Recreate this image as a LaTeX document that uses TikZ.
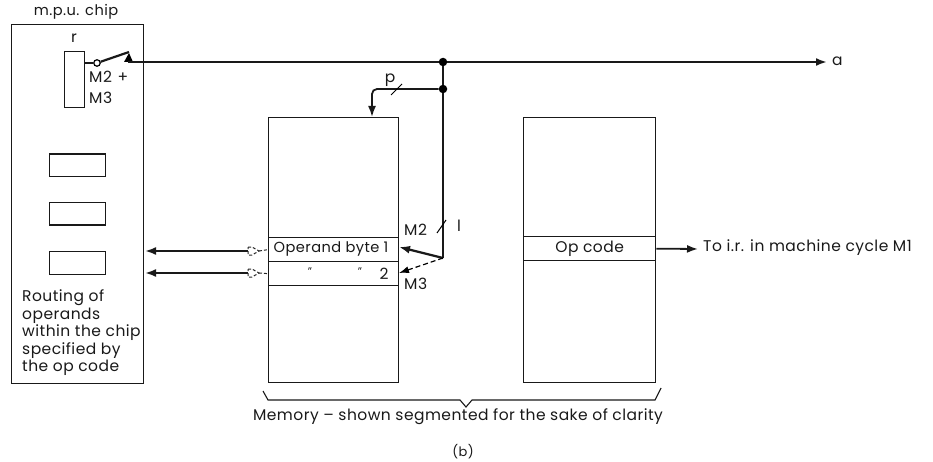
\documentclass[tikz,border=0pt]{standalone}
\usepackage{fontspec}
\setmainfont{Poppins}[LetterSpace=3]
\usetikzlibrary{arrows.meta,decorations.pathreplacing}
\tikzset{
  every node/.style={font=\fontsize{15.5}{17.6}\selectfont,inner sep=0pt,text=black!90},
  smalltext/.style={font=\fontsize{14.6}{17.6}\selectfont},
  heavy/.style={draw=black!90,line width=2.2pt},
  head/.style={-{Latex[length=11pt,width=8pt]}},
  dot/.style={circle,fill=black,minimum size=8.5pt,inner sep=0pt},
  boxpart/.style={draw=black!90,line width=1.3pt,rectangle,inner sep=0pt},
  shadow/.style={draw=black!85,line width=1pt,dash pattern=on 3pt off 2pt}
}
\begin{document}
\begin{tikzpicture}[x=1pt,y=-1pt]
\useasboundingbox (0,0) rectangle (933,462);
% chip
\node[boxpart,minimum width=132pt,minimum height=359pt,anchor=north west] (chip) at (11,24) {};
\node[anchor=base,smalltext] (chiplab) at (76,16) {m.p.u. chip};
\node[boxpart,minimum width=20pt,minimum height=56pt,anchor=north west] (reg) at (64,51) {};
\node[anchor=base] (rlab) at (74,43) {r};
\node[anchor=base west] (m2a) at (89,83) {M2};
\node[anchor=base west] (m3a) at (89,104) {M3};
\node[anchor=base] (fa) at (123,83) {+};
\node[boxpart,minimum width=56pt,minimum height=22.5pt,anchor=north west] (b1) at (49,153.5) {};
\node[boxpart,minimum width=56pt,minimum height=22.5pt,anchor=north west] (b2) at (49,202) {};
\node[boxpart,minimum width=56pt,minimum height=22.5pt,anchor=north west] (b3) at (49,251) {};
\node[anchor=north west,align=left] (route) at (22,289.5) {Routing of\\operands\\within the chip\\specified by\\the op code};
% switch
\node[circle,draw=black,line width=1.2pt,fill=white,minimum size=6.5pt] (sw) at (97,63) {};
\coordinate (regout) at (84,63);
\coordinate (swtip) at (129,52);
\draw[heavy,line width=1.6pt] (regout) -- (sw);
\draw[heavy] (sw) -- (swtip);
\fill[black] (124,62) -- (129,53) -- (133,62) -- cycle;
% bus
\coordinate (busL) at (128,62);
\node[dot] (j1) at (443,62) {};
\node[dot] (j2) at (443,89) {};
\node[anchor=west] (alab) at (832,61) {a};
\draw[heavy,head] (busL) -- (j1) -- (827,62);
\draw[heavy,line width=1.8pt] (j1) -- (j2);
% memory 1
\node[boxpart,minimum width=130pt,minimum height=265pt,anchor=north west] (mem1) at (268,117) {};
\node[boxpart,minimum width=130pt,minimum height=24pt,anchor=north west] (op1) at (268,237) {};
\node[boxpart,minimum width=130pt,minimum height=24pt,anchor=north west] (op2) at (268,261) {};
\node[smalltext] (op1t) at (331,249) {Operand byte 1};
\node[font=\fontsize{11}{12}\selectfont] (q1) at (310,272) {"};
\node[font=\fontsize{11}{12}\selectfont] (q2) at (360,272) {"};
\node[anchor=base] (two) at (384,279) {2};
\node[anchor=base west] (m2b) at (404,235) {M2};
\node[anchor=base west] (m3b) at (404,289) {M3};
\node[anchor=base] (plab) at (390,83) {p};
\node[anchor=base] (llab) at (459,232) {l};
% p branch
\draw[heavy,line width=1.8pt,head,rounded corners=5pt] (j2) -- (372,89) -- (372,117);
\coordinate (pa) at (391,95);
\coordinate (pb) at (402,84);
\draw[line width=1pt,black] (pa) -- (pb);
% l line
\coordinate (lk) at (443,258);
\draw[heavy,line width=1.8pt] (j2) -- (lk);
\coordinate (la) at (437,233);
\coordinate (lb) at (446,220);
\draw[line width=1pt,black] (la) -- (lb);
\draw[heavy,head] (lk) -- (399,247);
\draw[line width=1.2pt,black,dash pattern=on 5pt off 3pt,-{Latex[length=10pt,width=7pt]}] (lk) -- (399,273);
% operand outs
\coordinate (o1) at (248,251);
\coordinate (o2) at (248,273);
\draw[heavy,head] (o1) -- (145,251);
\draw[heavy,head] (o2) -- (145,273);
\draw[shadow] (248,247) -- (252,247) -- (259,251) -- (252,255) -- (248,255) -- cycle;
\draw[shadow] (248,269) -- (252,269) -- (259,273) -- (252,277) -- (248,277) -- cycle;
\draw[shadow] (259,251) -- (op1.west);
\draw[shadow] (259,273) -- (op2.west);
% memory 2
\node[boxpart,minimum width=132pt,minimum height=265pt,anchor=north west] (mem2) at (523,117) {};
\node[boxpart,minimum width=132pt,minimum height=24pt,anchor=north west] (opc) at (523,236) {Op code};
\node[anchor=west] (tolab) at (703,248) {To i.r. in machine cycle M1};
\draw[heavy,line width=1.8pt,head] (opc.east) -- (698,249);
% brace
\coordinate (brL) at (263,391);
\coordinate (brC) at (466,407);
\coordinate (brR) at (661,388);
\draw[black!90,line width=1.1pt] (brL) -- (268,400) -- (460,400) -- (brC) -- (472,400) -- (655,400) -- (brR);
\node (memlab) at (458,417) {Memory – shown segmented for the sake of clarity};
\node[font=\fontsize{13}{14}\selectfont] (blab) at (463,452) {(b)};
\end{tikzpicture}
\end{document}
